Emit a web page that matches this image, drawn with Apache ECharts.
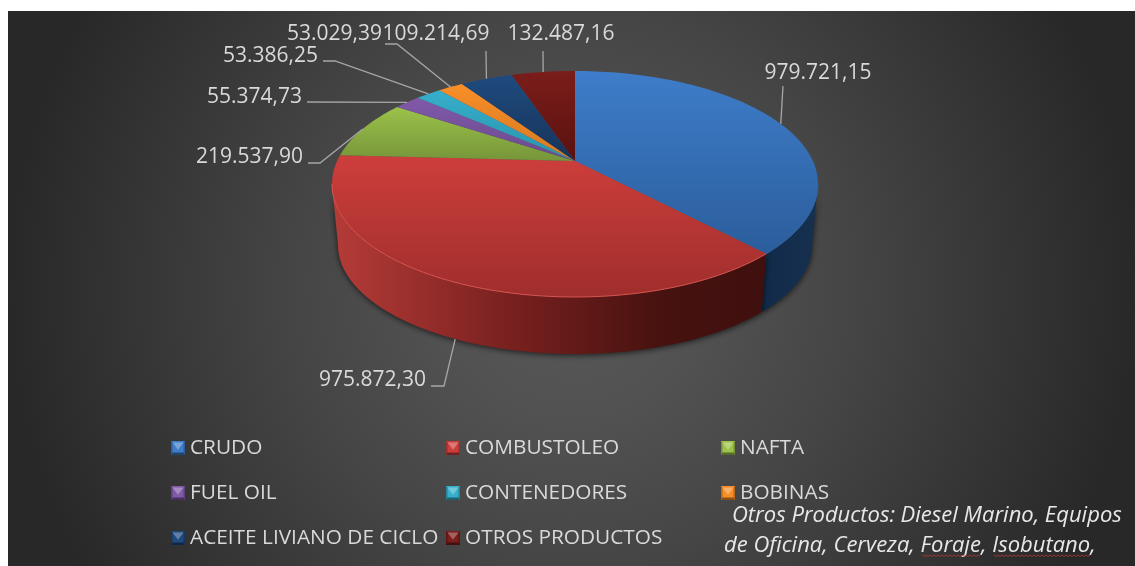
<!DOCTYPE html>
<html>
<head>
<meta charset="utf-8">
<style>
  html, body { margin: 0; padding: 0; background: #fff; }
  #chart { width: 1135px; height: 566px; }
</style>
</head>
<body>
<div id="chart"></div>
<script src="https://cdn.jsdelivr.net/npm/echarts@6/dist/echarts.min.js"></script>
<script>
const categories = ['CRUDO', 'COMBUSTOLEO', 'NAFTA', 'FUEL OIL', 'CONTENEDORES', 'BOBINAS', 'ACEITE LIVIANO DE CICLO', 'OTROS PRODUCTOS']
const values = [979721.15, 975872.30, 219537.90, 55374.73, 53386.25, 53029.39, 109214.69, 132487.16]
const noteLines = ['Otros Productos: Diesel Marino, Equipos', 'de Oficina, Cerveza, Foraje, Isobutano,']

// colores: [arriba, abajo] de cada tajada
const topColors = [
  ['#3e7dca', '#2b5d9b'], ['#cd3e3b', '#9f2e2c'], ['#9cc24a', '#76953a'], ['#8059a9', '#6a4a8c'],
  ['#36afcc', '#2a93ac'], ['#f78e28', '#d87922'], ['#1f4a7e', '#16345a'], ['#7b1d1a', '#591210'],
]

// elipse superior e inferior del disco
const topEll = { cx: 575, cy: 184, rx: 243, ry: 113 }
const botEll = { cx: 575, cy: 245, rx: 237, ry: 109 }
const tilt = 0.2035 // desplaza el vertice hacia atras por la perspectiva

// texto y guia de cada etiqueta, la guia arranca en el borde de la tajada
const labelLayout = [
  { x: 818, y: 73, align: 'center', line: [[783, 86]], onSide: false },
  { x: 426, y: 380, align: 'right', line: [[444, 386], [431, 386]], onSide: true },
  { x: 303, y: 157, align: 'right', line: [[320, 163], [308, 163]], onSide: false },
  { x: 302, y: 97, align: 'right', line: [[307, 102]], onSide: false },
  { x: 318, y: 56, align: 'right', line: [[335, 61], [323, 61]], onSide: false },
  { x: 382, y: 34, align: 'right', line: [[397, 44], [385, 44]], onSide: false },
  { x: 436, y: 34, align: 'center', line: [[486, 51]], onSide: false },
  { x: 561, y: 34, align: 'center', line: [[543, 51]], onSide: false },
]

const total = values.reduce((a, b) => a + b, 0)
const starts = []
values.reduce((sum, v, i) => {
  starts[i] = (sum / total) * 360
  return sum + v
}, 0)

// angulo donde el borde del disco llega a su extremo izquierdo y derecho
const frontFrom = (Math.acos(-tilt) * 180) / Math.PI
const frontTo = 360 - frontFrom

function project(deg, ell) {
  const rad = (deg * Math.PI) / 180
  const u = Math.sin(rad)
  const v = Math.cos(rad)
  const d = 1 + tilt * v
  const px = (u * Math.sqrt(1 - tilt * tilt)) / d
  const py = (v + tilt) / d
  return [ell.cx + ell.rx * px, ell.cy - ell.ry * py]
}

function arc(from, to, ell) {
  const pts = []
  const n = Math.max(2, Math.ceil((to - from) / 1.5))
  for (let i = 0; i <= n; i++) {
    pts.push(project(from + ((to - from) * i) / n, ell))
  }
  return pts
}

function apex() {
  return [topEll.cx, topEll.cy - topEll.ry * tilt]
}

function vertical(c) {
  return { type: 'linear', x: 0, y: 0, x2: 0, y2: 1, colorStops: [{ offset: 0, color: c[0] }, { offset: 1, color: c[1] }] }
}

function sideFill(i) {
  if (i === 0) {
    return {
      type: 'linear', global: true, x: 760, y: 0, x2: 815, y2: 0,
      colorStops: [{ offset: 0, color: '#122a4a' }, { offset: 1, color: '#16304f' }],
    }
  }
  return {
    type: 'linear', global: true, x: 335, y: 0, x2: 765, y2: 0,
    colorStops: [
      { offset: 0, color: '#b43b37' },
      { offset: 0.4, color: '#7a2120' },
      { offset: 0.75, color: '#47120f' },
      { offset: 1, color: '#3f100e' },
    ],
  }
}

function renderSide(params, api) {
  const i = params.dataIndex
  const a = starts[i]
  const sweep = (api.value(0) / total) * 360
  const from = Math.max(a, frontFrom)
  const to = Math.min(a + sweep, frontTo)
  if (to <= from) return null
  const upper = arc(from, to, topEll)
  const lower = arc(from, to, botEll).reverse()
  return {
    type: 'polygon',
    shape: { points: upper.concat(lower) },
    style: { fill: sideFill(i), shadowBlur: 6, shadowColor: 'rgba(0,0,0,0.7)', shadowOffsetY: 1 },
  }
}

function renderTop(params, api) {
  const i = params.dataIndex
  const a = starts[i]
  const b = a + (api.value(0) / total) * 360
  const edge = arc(a, b, topEll)
  const children = [{
    type: 'polygon',
    shape: { points: [apex()].concat(edge) },
    style: { fill: vertical(topColors[i]) },
  }]
  // filo claro del borde delantero
  const from = Math.max(a, frontFrom)
  const to = Math.min(b, frontTo)
  if (to > from) {
    children.push({
      type: 'polyline',
      shape: { points: arc(from, to, topEll) },
      style: { fill: null, stroke: i === 1 ? '#d9544f' : '#34659f', lineWidth: 1 },
    })
  }
  return { type: 'group', children }
}

function formatValue(v) {
  const parts = v.toFixed(2).split('.')
  return parts[0].replace(/\B(?=(\d{3})+$)/g, '.') + ',' + parts[1]
}

function renderLabel(params, api) {
  const i = params.dataIndex
  const layout = labelLayout[i]
  const mid = starts[i] + (api.value(0) / total) * 180
  const anchor = project(mid, layout.onSide ? botEll : topEll)
  return {
    type: 'group',
    children: [
      {
        type: 'polyline',
        shape: { points: [anchor].concat(layout.line) },
        style: { fill: null, stroke: '#a6a6a6', lineWidth: 1.3 },
      },
      {
        type: 'text',
        style: {
          x: layout.x, y: layout.y, text: formatValue(api.value(0)),
          fill: '#d9d9d9', font: '21px "Open Sans"', align: layout.align, verticalAlign: 'middle',
        },
      },
    ],
  }
}

function renderLegend(params) {
  const i = params.dataIndex
  const x = 171 + (i % 3) * 275
  const y = 441 + Math.floor(i / 3) * 45
  const c = topColors[i][0]
  const s = 14
  return {
    type: 'group',
    x, y,
    children: [
      { type: 'rect', shape: { x: 0, y: 0, width: s, height: s }, style: { fill: c } },
      { type: 'polygon', shape: { points: [[1.5, 1.5], [s - 1.5, 1.5], [s / 2, s * 0.62]] }, style: { fill: 'rgba(255,255,255,0.3)' } },
      { type: 'polygon', shape: { points: [[0, s], [1.5, s - 2.5], [s - 1.5, s - 2.5], [s, s]] }, style: { fill: 'rgba(0,0,0,0.45)' } },
      { type: 'polygon', shape: { points: [[0, 0], [1.5, 1.5], [1.5, s - 2.5], [0, s]] }, style: { fill: 'rgba(0,0,0,0.25)' } },
      { type: 'polygon', shape: { points: [[s, 0], [s - 1.5, 1.5], [s - 1.5, s - 2.5], [s, s]] }, style: { fill: 'rgba(0,0,0,0.25)' } },
      {
        type: 'text',
        style: {
          x: s + 5, y: s / 2 + 0.5, text: categories[i], fill: '#d9d9d9',
          font: '20.8px "Open Sans"', verticalAlign: 'middle',
        },
      },
    ],
  }
}

function squiggle(x1, x2, y) {
  const pts = []
  for (let x = x1, k = 0; x <= x2; x += 2, k++) pts.push([x, y + (k % 2) * 1.5])
  return { type: 'polyline', shape: { points: pts }, style: { fill: null, stroke: '#b03a3a', lineWidth: 0.8 }, z: 20 }
}

const chart = echarts.init(document.getElementById('chart'), null, { renderer: 'canvas' })
chart.setOption({
  animation: false,
  backgroundColor: '#ffffff',
  graphic: [
    {
      type: 'rect', z: -10,
      shape: { x: 8, y: 11, width: 1127, height: 555 },
      style: {
        fill: {
          type: 'radial', x: 0.5, y: 0.5, r: 1.13,
          colorStops: [
            { offset: 0, color: '#585858' },
            { offset: 0.2, color: '#525252' },
            { offset: 0.45, color: '#454545' },
            { offset: 0.9, color: '#282828' },
            { offset: 1, color: '#282828' },
          ],
        },
      },
    },
    { type: 'text', z: 20, style: { x: 732, y: 516, text: noteLines[0], fill: '#e8e8e8', font: 'italic 22px "Open Sans"', verticalAlign: 'middle' } },
    { type: 'text', z: 20, style: { x: 724, y: 546, text: noteLines[1], fill: '#e8e8e8', font: 'italic 22px "Open Sans"', verticalAlign: 'middle' } },
    squiggle(922, 980, 555),
    squiggle(994, 1090, 555),
  ],
  series: [
    { type: 'custom', name: 'lados', coordinateSystem: 'none', silent: true, z: 2, data: values, renderItem: renderSide },
    { type: 'custom', name: 'tajadas', coordinateSystem: 'none', silent: true, z: 3, data: values, renderItem: renderTop },
    { type: 'custom', name: 'etiquetas', coordinateSystem: 'none', silent: true, z: 4, data: values, renderItem: renderLabel },
    { type: 'custom', name: 'leyenda', coordinateSystem: 'none', silent: true, z: 4, data: categories, renderItem: renderLegend },
  ],
})
</script>
</body>
</html>
